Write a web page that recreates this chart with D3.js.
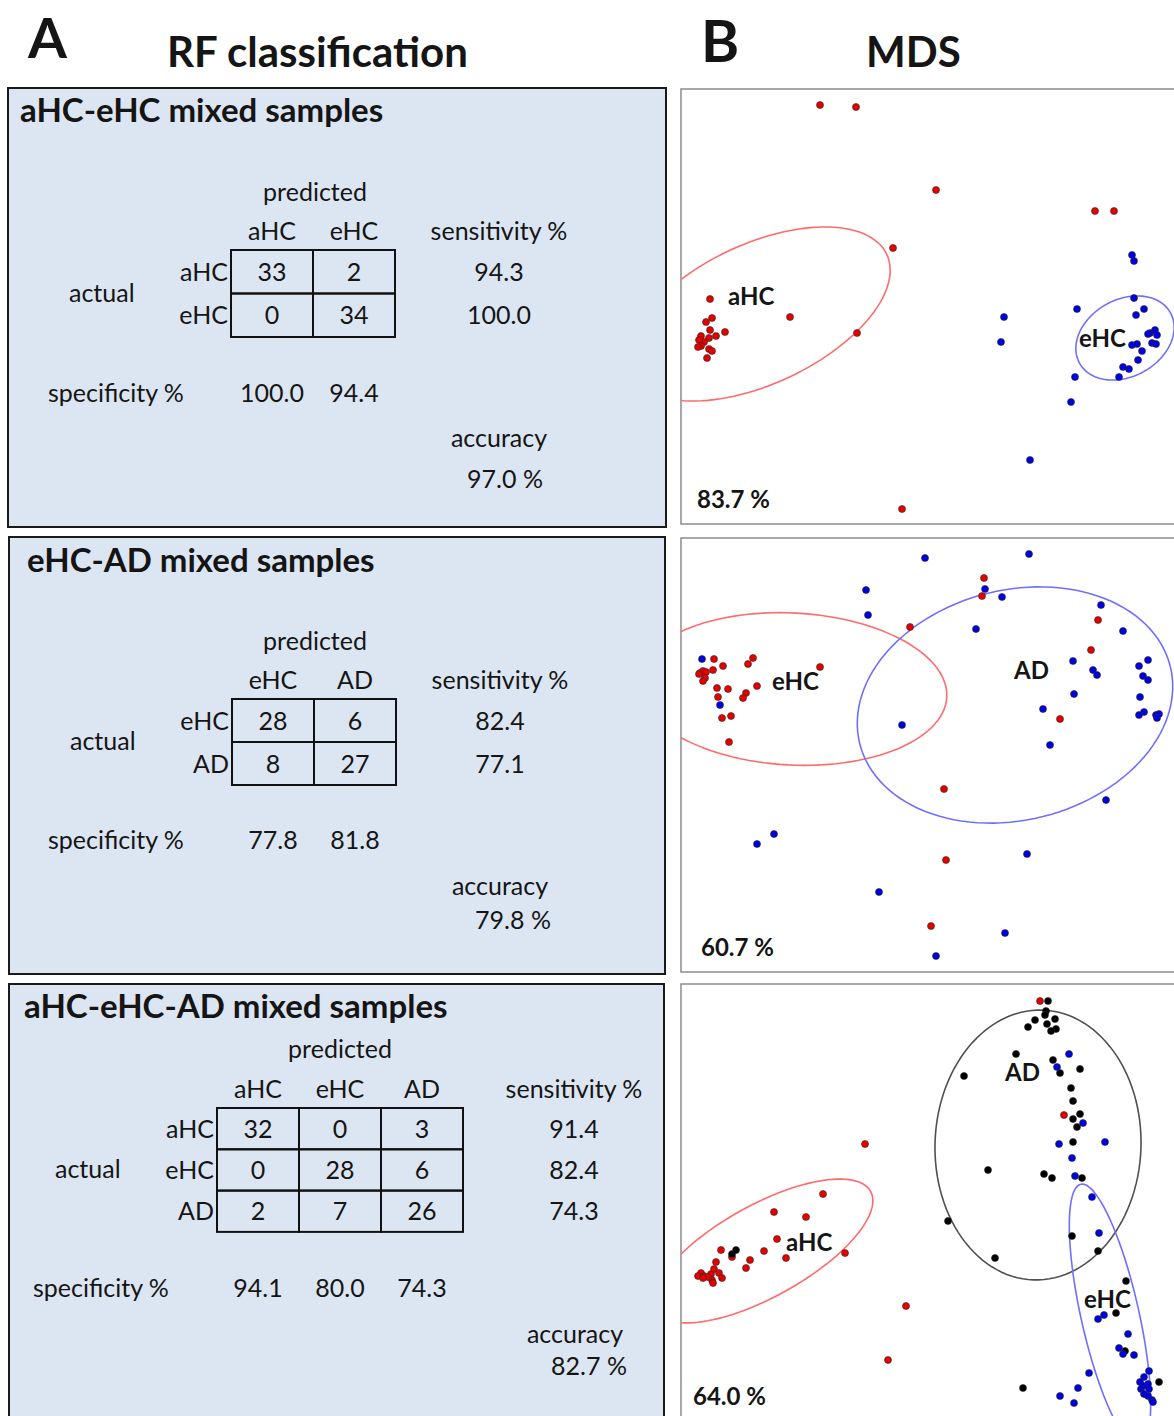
<!DOCTYPE html>
<html>
<head>
<meta charset="utf-8">
<script src="https://cdn.jsdelivr.net/npm/d3@7"></script>
<style>
	body { margin: 0; background: #fff; }
	text { font-family: Lato, 'Open Sans', sans-serif; fill: #151515; }
</style>
</head>
<body>
<div class="canvas"></div>
<script>
// ---------- data: RF classification ----------
const rfTitles = ['aHC-eHC mixed samples', 'eHC-AD mixed samples', 'aHC-eHC-AD mixed samples'];

const classes1 = ['aHC', 'eHC'];
const matrix1 = [[33, 2], [0, 34]];
const sens1 = ['94.3', '100.0'];
const spec1 = ['100.0', '94.4'];
const acc1 = '97.0 %';

const classes2 = ['eHC', 'AD'];
const matrix2 = [[28, 6], [8, 27]];
const sens2 = ['82.4', '77.1'];
const spec2 = ['77.8', '81.8'];
const acc2 = '79.8 %';

const classes3 = ['aHC', 'eHC', 'AD'];
const matrix3 = [[32, 0, 3], [0, 28, 6], [2, 7, 26]];
const sens3 = ['91.4', '82.4', '74.3'];
const spec3 = ['94.1', '80.0', '74.3'];
const acc3 = '82.7 %';

// ---------- data: MDS (dim1, dim2) ----------
const mdsExplained = ['83.7 %', '60.7 %', '64.0 %'];

const mds1aHC = [[14.0,41.9],[17.6,41.7],[25.6,33.4],[41.5,31.3],[43.4,31.3],[21.3,27.6],[3.0,22.5],
	[11.0,20.7],[17.7,19.1],[22.2,1.5],[3.2,20.6],[2.6,20.2],[3.0,19.4],[4.5,19.2],[3.6,18.8],[2.1,18.8],
	[2.9,18.6],[2.4,18.2],[1.9,18.4],[2.1,17.8],[1.8,17.7],[2.9,17.5],[3.2,17.3],[2.7,16.6]];
const mds1eHC = [[45.2,26.9],[45.4,26.3],[45.4,22.6],[39.7,21.5],[32.4,20.7],[32.1,18.2],[46.4,21.5],
	[45.6,20.9],[47.0,19.1],[47.5,19.4],[47.7,18.9],[46.8,19.0],[47.2,18.1],[47.6,18.0],[45.2,17.9],
	[45.7,18.0],[46.2,17.3],[45.8,16.4],[44.3,15.7],[44.9,15.5],[43.9,14.7],[39.5,14.7],[39.1,12.2],[35.0,6.4]];

const mds2eHC = [[30.4,39.4],[30.2,37.6],[23.0,34.5],[41.8,35.2],[41.1,32.2],[38.0,25.3],[14.0,30.5],
	[7.3,31.4],[6.8,30.8],[3.4,31.3],[4.3,30.6],[3.3,30.2],[2.0,29.9],[2.3,30.1],[2.6,30.0],[2.5,29.4],
	[2.3,29.1],[1.9,29.8],[7.7,28.6],[3.7,28.4],[4.8,28.3],[6.6,27.9],[6.3,27.4],[3.8,27.5],[4.2,25.4],
	[5.1,25.6],[4.9,23.0],[26.4,18.3],[26.6,11.2],[25.1,4.6]];
const mds2AD = [[24.5,41.4],[34.9,41.8],[18.6,38.2],[18.8,35.7],[30.5,38.3],[32.2,37.5],[42.1,36.7],
	[29.6,34.3],[44.3,34.1],[2.2,31.3],[39.3,31.1],[46.8,31.2],[45.9,30.6],[41.3,30.2],[41.7,29.7],
	[46.3,29.6],[46.8,29.2],[39.4,27.8],[46.0,27.5],[4.0,26.7],[36.3,26.3],[46.4,26.0],[45.9,25.7],
	[47.6,25.7],[47.9,25.8],[47.7,25.4],[22.2,24.7],[37.0,22.7],[42.6,17.2],[9.4,13.8],[7.7,12.8],
	[34.7,11.8],[19.9,8.0],[32.5,3.9],[25.6,1.6]];

const mds3aHC = [[36.0,42.9],[38.4,31.5],[18.5,28.6],[14.3,23.6],[9.4,21.8],[12.6,21.3],[9.7,19.1],
	[16.5,17.7],[10.6,17.2],[8.4,17.9],[4.1,18.0],[7.0,17.0],[5.2,17.3],[6.6,16.2],[3.6,16.8],[22.6,12.4],
	[20.8,7.0],[2.1,15.7],[1.8,15.4],[2.4,15.4],[3.1,15.6],[3.4,16.1],[3.9,15.7],[4.2,15.2],[3.2,15.0],
	[3.3,14.7],[2.8,15.3],[2.3,15.2]];
const mds3AD = [[36.8,42.9],[36.6,41.9],[36.5,41.5],[35.5,41.0],[37.5,41.1],[36.7,40.6],[34.8,40.3],
	[37.6,40.1],[37.1,39.9],[33.6,37.6],[37.3,37.0],[38.0,35.7],[40.0,36.1],[28.4,35.4],[39.1,34.2],
	[39.3,32.9],[40.0,31.6],[39.3,31.1],[39.7,30.3],[39.3,28.8],[30.8,26.0],[36.4,25.6],[37.2,25.2],
	[40.2,25.2],[26.8,20.9],[39.2,19.4],[41.8,17.9],[31.5,17.2],[44.6,14.9],[43.6,11.7],[44.5,7.9],
	[34.3,4.2],[47.9,4.8],[5.2,17.6],[5.6,18.0]];
const mds3eHC = [[38.9,37.6],[37.7,36.3],[40.3,30.7],[37.9,28.6],[42.5,28.8],[39.2,27.2],[39.5,25.4],
	[41.2,23.3],[41.9,19.7],[41.8,11.1],[42.4,11.5],[44.8,9.6],[43.9,8.2],[44.3,7.6],[45.4,7.5],[40.9,5.7],
	[39.8,4.2],[38.0,3.4],[39.4,2.7],[46.9,5.9],[46.4,5.3],[46.0,4.8],[46.8,4.6],[46.1,4.1],[46.9,4.1],
	[46.4,3.6],[46.8,3.4],[47.2,3.0],[47.3,2.8],[46.3,4.4]];

// ellipses: [centre dim1, centre dim2, semi-major, semi-minor, angle deg]
const mds1Ellipses = [[7.9, 21.0, 14.1, 7.0, 25], [44.5, 18.6, 5.2, 3.85, 29]];
const mds2Ellipses = [[11.2, 28.3, 15.5, 7.6, -3], [33.5, 26.7, 16.0, 11.5, 14]];
const mds3Ellipses = [[8.3, 17.9, 12.3, 4.6, 29], [35.8, 28.5, 13.5, 10.3, 88], [43.0, 11.5, 13.4, 2.9, 102.6]];

// group labels: [text, dim1, dim2]
const mds1Labels = [['aHC', 4.8, 21.9], ['eHC', 39.9, 17.7]];
const mds2Labels = [['eHC', 9.2, 28.2], ['AD', 33.4, 29.3]];
const mds3Labels = [['AD', 32.5, 34.9], ['aHC', 10.6, 17.9], ['eHC', 40.4, 12.2]];

// ---------- layout ----------
const dims = {width: 1174, height: 1416};
const colour = {red: '#e60000', blue: '#0000e0', black: '#000'};
const ringColour = {red: '#ff6b6b', blue: '#6f6fff', black: '#505050'};

const svg = d3.select('.canvas')
	.append('svg')
	.attr('width', dims.width)
	.attr('height', dims.height);

// headers
const header = [['A', 28, 58, 56], ['RF classification', 167, 67, 42], ['B', 701, 62, 58], ['MDS', 866, 67, 42]];
svg.selectAll('.header')
	.data(header)
	.enter()
	.append('text')
		.attr('class', 'header')
		.attr('x', d => d[1])
		.attr('y', d => d[2])
		.attr('font-size', d => d[3])
		.attr('font-weight', 700)
		.text(d => d[0]);

const rfLayout = [
	{box: [8, 88, 658, 439], titleX: 20, titleY: 122, gridX: 231, gridY: 250, cellW: 82, cellH: 43.5,
		predX: 315, predY: 201, headY: 240, sensX: 499, specX: 48, specY: 402,
		accX: 499, accY: 447, accValX: 505, accValY: 488, actualX: 69, actualY: 302},
	{box: [9, 537, 656, 437], titleX: 27, titleY: 572, gridX: 232, gridY: 699, cellW: 82, cellH: 43,
		predX: 315, predY: 650, headY: 689, sensX: 500, specX: 48, specY: 849,
		accX: 500, accY: 895, accValX: 513, accValY: 929, actualX: 70, actualY: 750},
	{box: [9, 984, 655, 460], titleX: 24, titleY: 1018, gridX: 217, gridY: 1108, cellW: 82, cellH: 41.3,
		predX: 340, predY: 1058, headY: 1098, sensX: 574, specX: 33, specY: 1297,
		accX: 575, accY: 1343, accValX: 589, accValY: 1375, actualX: 55, actualY: 1178}
];

const rfPanels = [
	{title: rfTitles[0], classes: classes1, matrix: matrix1, sens: sens1, spec: spec1, acc: acc1, lay: rfLayout[0]},
	{title: rfTitles[1], classes: classes2, matrix: matrix2, sens: sens2, spec: spec2, acc: acc2, lay: rfLayout[1]},
	{title: rfTitles[2], classes: classes3, matrix: matrix3, sens: sens3, spec: spec3, acc: acc3, lay: rfLayout[2]}
];

const fs = 25;
const mid = fs * 0.36; // baseline offset for vertical centring

const drawRF = (p) => {
	const L = p.lay;
	const g = svg.append('g');
	const n = p.classes.length;

	g.append('rect')
		.attr('x', L.box[0]).attr('y', L.box[1])
		.attr('width', L.box[2]).attr('height', L.box[3])
		.attr('fill', '#dce6f2')
		.attr('stroke', '#1a1a1a')
		.attr('stroke-width', 2);

	g.append('text')
		.attr('x', L.titleX).attr('y', L.titleY)
		.attr('font-size', 33).attr('font-weight', 700)
		.text(p.title);

	const x = d3.scaleBand().domain(p.classes).range([L.gridX, L.gridX + L.cellW * n]);
	const y = d3.scaleBand().domain(p.classes).range([L.gridY, L.gridY + L.cellH * n]);

	const txt = (tx, ty, s, anchor) => g.append('text')
		.attr('x', tx).attr('y', ty)
		.attr('font-size', fs)
		.attr('text-anchor', anchor || 'middle')
		.text(s);

	txt(L.predX, L.predY, 'predicted');
	txt(L.sensX, L.headY, 'sensitivity %');
	txt(L.actualX, L.actualY, 'actual', 'start');
	txt(L.specX, L.specY, 'specificity %', 'start');
	txt(L.accX, L.accY, 'accuracy');
	txt(L.accValX, L.accValY, p.acc);

	p.classes.forEach((c, j) => {
		txt(x(c) + x.bandwidth() / 2, L.headY, c);
		txt(L.gridX - 3, y(c) + y.bandwidth() / 2 + mid, c, 'end');
		txt(L.sensX, y(c) + y.bandwidth() / 2 + mid, p.sens[j]);
		txt(x(c) + x.bandwidth() / 2, L.specY, p.spec[j]);
	});

	const cells = [];
	p.matrix.forEach((row, i) => row.forEach((v, j) => cells.push({r: p.classes[i], c: p.classes[j], v})));

	g.selectAll('.cell')
		.data(cells)
		.enter()
		.append('rect')
			.attr('class', 'cell')
			.attr('x', d => x(d.c)).attr('y', d => y(d.r))
			.attr('width', x.bandwidth()).attr('height', y.bandwidth())
			.attr('fill', 'none')
			.attr('stroke', '#111')
			.attr('stroke-width', 2);

	g.selectAll('.val')
		.data(cells)
		.enter()
		.append('text')
			.attr('class', 'val')
			.attr('x', d => x(d.c) + x.bandwidth() / 2)
			.attr('y', d => y(d.r) + y.bandwidth() / 2 + mid)
			.attr('text-anchor', 'middle')
			.attr('font-size', fs)
			.text(d => d.v);
};

rfPanels.forEach(drawRF);

// ---------- MDS panels ----------
const mdsLayout = [
	{frame: [681, 89, 520, 435], yb: 524, pctX: 697, pctY: 508},
	{frame: [681, 538, 520, 434], yb: 972, pctX: 701, pctY: 956},
	{frame: [681, 984, 520, 460], yb: 1430, pctX: 693, pctY: 1405}
];

const mdsPanels = [
	{groups: [[mds1aHC, 'red'], [mds1eHC, 'blue']], rings: mds1Ellipses, ringCols: ['red', 'blue'],
		labels: mds1Labels, pct: mdsExplained[0], lay: mdsLayout[0]},
	{groups: [[mds2eHC, 'red'], [mds2AD, 'blue']], rings: mds2Ellipses, ringCols: ['red', 'blue'],
		labels: mds2Labels, pct: mdsExplained[1], lay: mdsLayout[1]},
	{groups: [[mds3aHC, 'red'], [mds3AD, 'black'], [mds3eHC, 'blue']], rings: mds3Ellipses, ringCols: ['red', 'black', 'blue'],
		labels: mds3Labels, pct: mdsExplained[2], lay: mdsLayout[2]}
];

const drawMDS = (p, k) => {
	const L = p.lay;
	const g = svg.append('g');

	const x = d3.scaleLinear().domain([0, 50]).range([680, 1180]);
	const y = d3.scaleLinear().domain([0, 50]).range([L.yb, L.yb - 500]);

	g.append('clipPath')
		.attr('id', 'clip' + k)
		.append('rect')
			.attr('x', L.frame[0]).attr('y', L.frame[1])
			.attr('width', L.frame[2]).attr('height', L.frame[3]);

	g.append('rect')
		.attr('x', L.frame[0]).attr('y', L.frame[1])
		.attr('width', L.frame[2]).attr('height', L.frame[3])
		.attr('fill', '#fff')
		.attr('stroke', '#8c8c8c')
		.attr('stroke-width', 1.5);

	const inner = g.append('g').attr('clip-path', `url(#clip${k})`);

	const ringLine = d3.line().x(d => x(d[0])).y(d => y(d[1]));
	const ringPts = (e) => {
		const th = e[4] * Math.PI / 180;
		return d3.range(0, 361, 3).map(t => {
			const a = t * Math.PI / 180;
			const u = e[2] * Math.cos(a), v = e[3] * Math.sin(a);
			return [e[0] + u * Math.cos(th) - v * Math.sin(th), e[1] + u * Math.sin(th) + v * Math.cos(th)];
		});
	};

	inner.selectAll('.ring')
		.data(p.rings)
		.enter()
		.append('path')
			.attr('class', 'ring')
			.attr('d', d => ringLine(ringPts(d)))
			.attr('fill', 'none')
			.attr('stroke', (d, i) => ringColour[p.ringCols[i]])
			.attr('stroke-width', 1.6);

	p.groups.forEach(([pts, col]) => {
		inner.selectAll(null)
			.data(pts)
			.enter()
			.append('circle')
				.attr('cx', d => x(d[0]))
				.attr('cy', d => y(d[1]))
				.attr('r', 3.5)
				.attr('fill', colour[col])
				.attr('stroke', '#2a2a2a')
				.attr('stroke-width', 0.6);
	});

	inner.selectAll('.lab')
		.data(p.labels)
		.enter()
		.append('text')
			.attr('class', 'lab')
			.attr('x', d => x(d[1]))
			.attr('y', d => y(d[2]))
			.attr('font-size', 24)
			.attr('font-weight', 700)
			.text(d => d[0]);

	g.append('text')
		.attr('x', L.pctX).attr('y', L.pctY)
		.attr('font-size', 24)
		.attr('font-weight', 700)
		.text(p.pct);
};

mdsPanels.forEach(drawMDS);
</script>
</body>
</html>
